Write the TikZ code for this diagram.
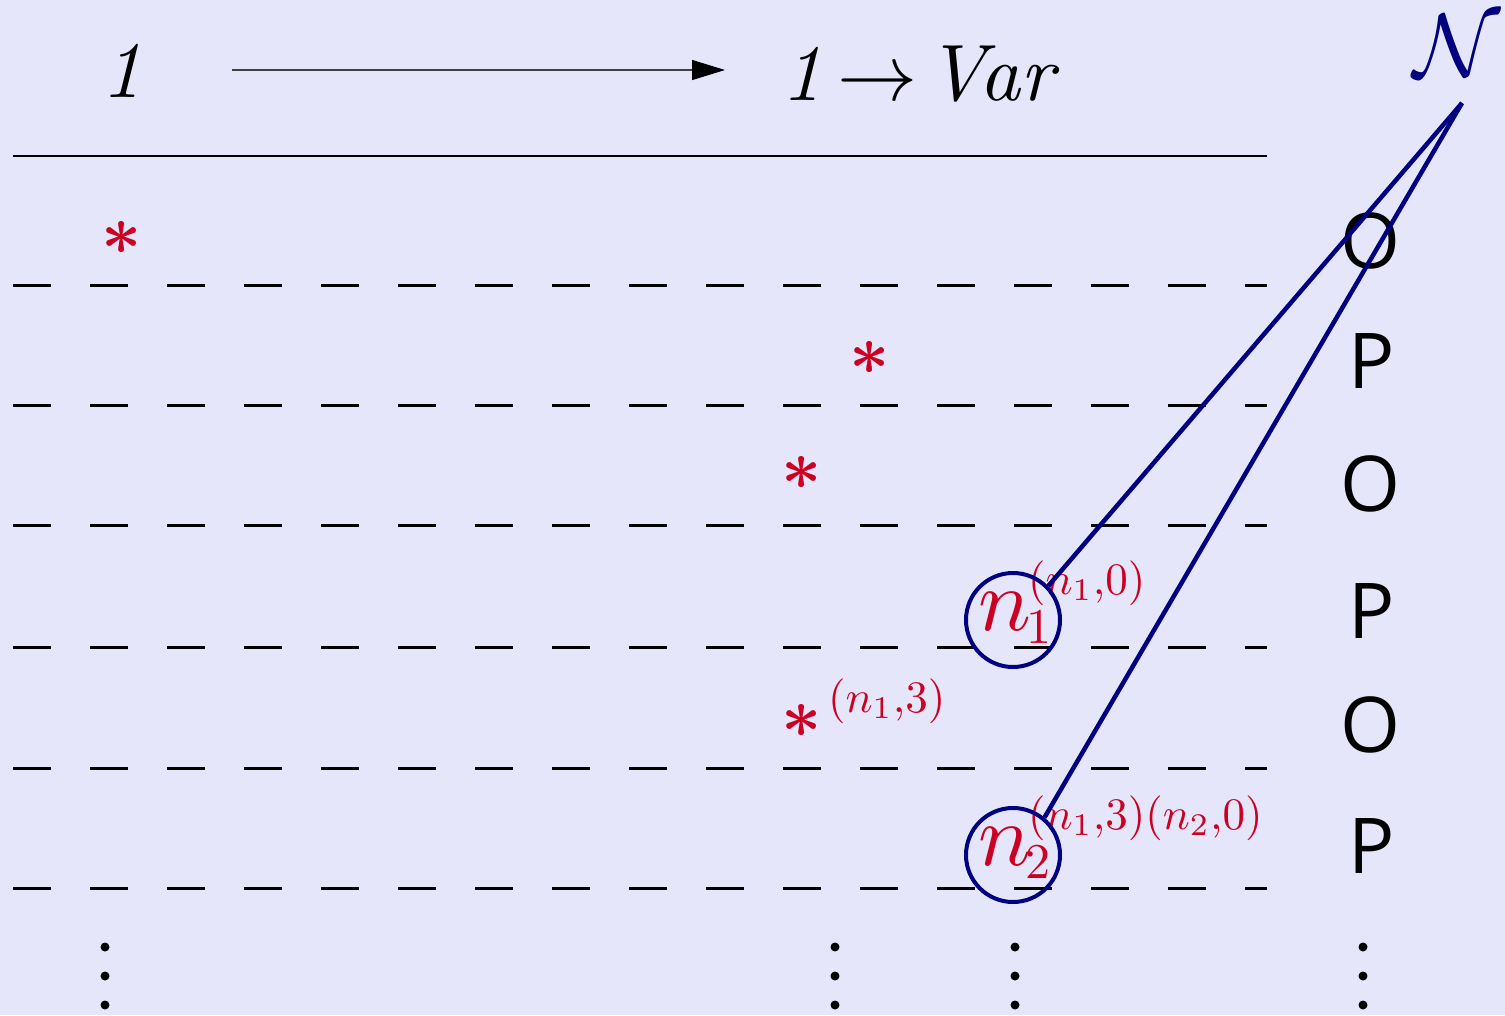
\documentclass[tikz,border=0pt]{standalone}
\usepackage{fontspec}
\newfontfamily\opsans{Open Sans}
\usetikzlibrary{arrows.meta}
\definecolor{bg}{RGB}{230,230,250}
\definecolor{myred}{RGB}{204,0,34}
\definecolor{mynavy}{RGB}{0,0,128}
\newcommand{\sz}[2]{\scalebox{#1}{\fontsize{10}{12}\selectfont #2}}
\begin{document}
\begin{tikzpicture}[x=1pt,y=-1pt,
  big/.style={inner sep=0},
  letter/.style={font=\fontsize{77}{80}\selectfont\opsans, inner sep=0, anchor=base},
  star/.style={text=myred, inner sep=0, anchor=base},
  mainn/.style={text=myred, inner sep=0, anchor=base west},
  subn/.style={text=myred, inner sep=0, anchor=base west},
  supn/.style={text=myred, inner sep=0, anchor=base west},
  dashrow/.style={line width=3pt, dash pattern=on 38pt off 39pt},
  link/.style={draw=mynavy, line width=4.5pt},
  ring/.style={circle, draw=mynavy, line width=4pt, minimum size=94pt, inner sep=0},
  vdot/.style={circle, fill=black, inner sep=0, minimum size=9pt}]
\fill[bg] (0,0) rectangle (1505,1015);
\useasboundingbox (0,0) rectangle (1505,1015);

% header
\node[big, anchor=base] (one) at (122,97) {\sz{8}{\itshape 1}};
\node[big, anchor=base west] (onevar) at (781,100) {\sz{8}{\itshape 1\hspace{0.19em}$\rightarrow$\hspace{0.11em}Var}};
\coordinate (arrS) at (232,70);
\coordinate (arrE) at (725,70);
\draw[black!75, line width=1.3pt, -{Triangle[length=33pt,width=20pt,fill=black,color=black]}] (arrS) -- (arrE);
\draw[line width=2.5pt] (13,156) -- (1267,156);

% dashed rows
\foreach \yy in {285,405,525,647,768,888}
  \draw[dashrow] (13,\yy) -- (1267,\yy);

% stars
\node[star] (s1) at (122,254) {\sz{7}{\boldmath$\ast$}};
\node[star] (s2) at (870,374) {\sz{7}{\boldmath$\ast$}};
\node[star] (s3) at (802,489) {\sz{7}{\boldmath$\ast$}};
\node[star] (s4) at (802,737) {\sz{7}{\boldmath$\ast$}};
\node[supn] (s4sup) at (828,712) {\sz{4.5}{$(n_1{,}3)$}};

% n1
\node[mainn] (n1) at (978,630) {\sz{8.8}{$n$}};
\node[subn] (n1sub) at (1026,643) {\sz{5}{$1$}};
\node[supn] (n1sup) at (1028,594) {\sz{4.5}{$(n_1{,}0)$}};
% n2
\node[mainn] (n2) at (978,865) {\sz{8.8}{$n$}};
\node[subn] (n2sub) at (1025,878) {\sz{5}{$2$}};
\node[supn] (n2sup) at (1028,829) {\sz{4.5}{$(n_1{,}3)(n_2{,}0)$}};

% right column
\node[letter] (r1) at (1370,268) {O};
\node[letter] (r2) at (1372,388) {P};
\node[letter] (r3) at (1370,511) {O};
\node[letter] (r4) at (1372,638) {P};
\node[letter] (r5) at (1370,752) {O};
\node[letter] (r6) at (1372,873) {P};

% rings and links
\node[ring] (c1) at (1013,620) {};
\node[ring] (c2) at (1013,855) {};
\node[text=mynavy, inner sep=0] (N) at (1457,46) {\sz{9}{$\mathcal{N}$}};
\coordinate (apex) at (1462,103);
\draw[link] (apex) -- (c1.44);
\draw[link] (apex) -- (c2.50);

% vertical dots
\foreach \xx in {105,835,1015,1363}
  \foreach \yy in {947,976,1005}
    \node[vdot] at (\xx,\yy) {};
\end{tikzpicture}
\end{document}
